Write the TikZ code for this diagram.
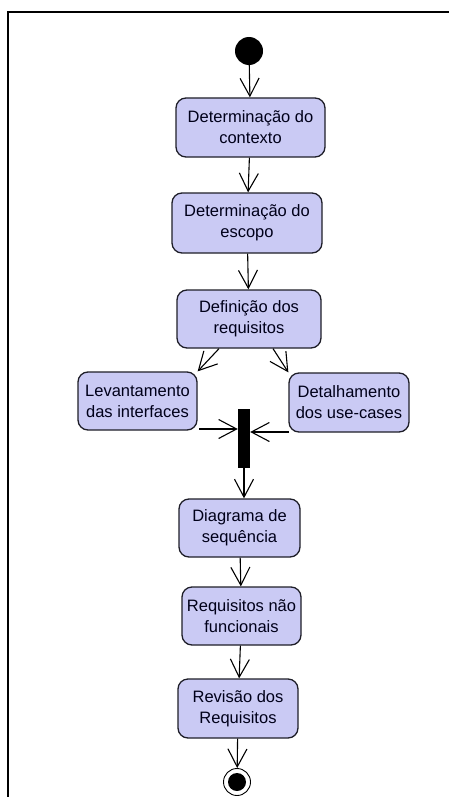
\documentclass[tikz,border=0pt]{standalone}
\usepackage{fontspec}
\setmainfont{Liberation Sans}
\usetikzlibrary{arrows.meta,calc}
\definecolor{actfill}{RGB}{202,202,244}
\definecolor{actline}{RGB}{30,30,40}
\tikzset{
  act/.style={draw=actline, line width=1.3pt, fill=actfill, rounded corners=10pt,
    align=center, font=\fontsize{16.5}{21}\selectfont, text=black!90!blue, inner sep=0pt},
  flow/.style={line width=1.1pt, -{Straight Barb[length=18pt,width=19pt,line width=1.1pt]}},
}
\begin{document}
\begin{tikzpicture}[x=1pt,y=-1pt]
  \useasboundingbox (0,0) rectangle (449,797);
  % frame of the diagram window
  \draw[line width=1.6pt] (449,12) -- (8,12) -- (8,797);

  % initial and final states
  \node[circle, fill=black, minimum size=28pt, inner sep=0pt] (start) at (249,51) {};
  \node[circle, draw=black, line width=0.9pt, minimum size=27pt, inner sep=0pt] (stop) at (237,782) {};
  \fill[black] (stop.center) circle (9pt);

  % activities
  \node[act, minimum width=149pt, minimum height=59pt] (ctx) at (250.5,127.5) {Determinação do\\contexto};
  \node[act, minimum width=150pt, minimum height=60pt] (esc) at (247,223) {Determinação do\\escopo};
  \node[act, minimum width=144pt, minimum height=58pt] (req) at (249,319) {Definição dos\\requisitos};
  \node[act, minimum width=119pt, minimum height=58pt] (intf) at (137.5,401) {Levantamento\\das interfaces};
  \node[act, minimum width=120pt, minimum height=59pt] (uc) at (349,402.5) {Detalhamento\\dos use-cases};
  \node[fill=black, minimum width=12pt, minimum height=59pt, inner sep=0pt] (join) at (244,438.5) {};
  \node[act, minimum width=121pt, minimum height=58pt] (seq) at (239.5,528) {Diagrama de\\sequência};
  \node[act, minimum width=119pt, minimum height=58pt] (nf) at (241.5,616) {Requisitos não\\funcionais};
  \node[act, minimum width=120pt, minimum height=59pt] (rev) at (238,708.5) {Revisão dos\\Requisitos};

  % transitions
  \draw[flow] (start) -- (ctx);
  \draw[flow] (ctx) -- (esc);
  \draw[flow] (esc) -- (req);
  \draw[flow] ($(req.south)+(-30,0)$) -- (intf.north east);
  \draw[flow] ($(req.south)+(24,0)$) -- (uc.north west);
  \coordinate (fromintf) at (199,429);
  \coordinate (fromuc) at (289,432);
  \draw[flow] (fromintf) -- (fromintf -| join.west);
  \draw[flow] (fromuc) -- (fromuc -| join.east);
  \draw[flow] (join.south) -- (join.south |- seq.north);
  \draw[flow] (seq) -- (nf);
  \draw[flow] (nf) -- (rev);
  \draw[flow] (rev) -- (stop);
\end{tikzpicture}
\end{document}
